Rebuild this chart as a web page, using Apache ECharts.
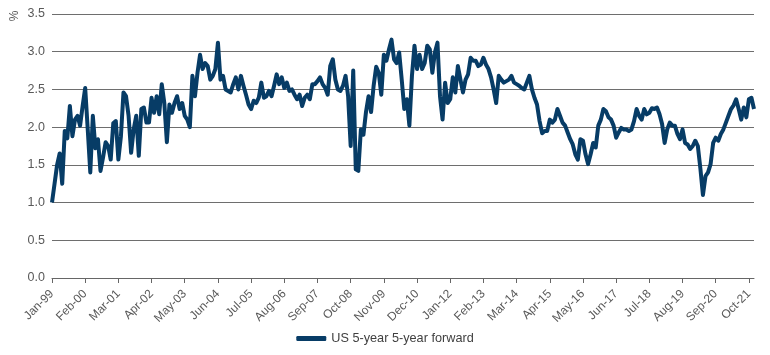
<!DOCTYPE html>
<html>
<head>
<meta charset="utf-8">
<script src="https://cdn.jsdelivr.net/npm/echarts@6/dist/echarts.min.js"></script>
<style>html,body{margin:0;padding:0;background:#fff;}#c{width:770px;height:355px;}</style>
</head>
<body>
<div id="c"></div>
<script>
// Monthly values, Jan-99 .. Dec-21
const v1999_2002 = [1.0,1.25,1.5,1.65,1.25,1.95,1.85,2.28,1.88,2.1,2.15,2.02,2.28,2.52,1.97,1.4,2.15,1.72,1.84,1.42,1.6,1.8,1.75,1.57,2.05,2.08,1.57,1.88,2.46,2.41,2.15,1.66,1.97,2.15,1.62,2.24,2.26,2.06,2.06,2.39,2.19,2.41,2.17,2.57,2.32,1.8];
const v2002_2006 = [2.3,2.19,2.32,2.41,2.24,2.32,2.15,2.1,2.0,2.68,2.41,2.72,2.96,2.77,2.85,2.81,2.63,2.68,2.77,3.12,2.63,2.68,2.5,2.48,2.46,2.57,2.66,2.5,2.68,2.55,2.43,2.3,2.24,2.35,2.32,2.39,2.59,2.39,2.41,2.48,2.41,2.55,2.7,2.57,2.66,2.52];
const v2006_2010 = [2.59,2.48,2.5,2.43,2.37,2.43,2.28,2.39,2.43,2.37,2.57,2.57,2.61,2.66,2.57,2.52,2.43,2.81,2.9,2.63,2.5,2.48,2.55,2.68,2.41,1.75,2.75,1.44,1.42,1.97,1.9,2.2,2.41,2.2,2.55,2.8,2.72,2.43,2.96,2.88,3.03,3.16,2.9,2.85,2.99,2.63,2.24];
const v2010_2014 = [2.37,2.02,2.68,3.08,2.77,2.96,2.77,2.85,3.08,3.03,2.72,2.99,3.12,2.41,2.1,2.59,2.32,2.37,2.66,2.46,2.81,2.63,2.46,2.63,2.7,2.92,2.88,2.88,2.81,2.83,2.92,2.83,2.77,2.66,2.5,2.32,2.68,2.63,2.59,2.61,2.63,2.68,2.59,2.57,2.55];
const v2014_2018 = [2.52,2.5,2.59,2.68,2.5,2.39,2.3,2.08,1.92,1.95,1.95,2.1,2.06,2.1,2.24,2.15,2.06,2.02,1.93,1.84,1.77,1.64,1.57,1.84,1.82,1.64,1.51,1.64,1.79,1.73,2.02,2.1,2.24,2.21,2.13,2.1,2.02,1.86,1.93,1.99,1.97,1.97,1.95,1.97,2.08,2.24,2.15];
const v2018_2021 = [2.1,2.24,2.17,2.19,2.25,2.24,2.26,2.17,2.04,1.79,1.97,2.06,2.02,2.02,1.91,1.84,1.97,1.79,1.77,1.71,1.75,1.82,1.75,1.45,1.1,1.35,1.4,1.51,1.79,1.86,1.82,1.91,1.97,2.06,2.15,2.24,2.29,2.37,2.24,2.1,2.26,2.13,2.37,2.39,2.24];
const values = [].concat(v1999_2002, v2002_2006, v2006_2010, v2010_2014, v2014_2018, v2018_2021);

const monthNames = ['Jan','Feb','Mar','Apr','May','Jun','Jul','Aug','Sep','Oct','Nov','Dec'];
const categories = values.map((_, i) => monthNames[i % 12] + '-' + String((99 + Math.floor(i / 12)) % 100).padStart(2, '0'));
const yTicks = [0, 0.5, 1.0, 1.5, 2.0, 2.5, 3.0, 3.5];
const seriesName = 'US 5-year 5-year forward';

const chart = echarts.init(document.getElementById('c'), null, {renderer: 'canvas'});
chart.setOption({
  animation: false,
  backgroundColor: '#ffffff',
  textStyle: {fontFamily: 'Liberation Sans, Arial, sans-serif'},
  grid: {left: 52, right: 16, top: 14, bottom: 77, containLabel: false},
  legend: {
    data: [seriesName],
    bottom: 5,
    left: 'center',
    icon: 'roundRect',
    itemWidth: 30,
    itemHeight: 5,
    itemGap: 10,
    textStyle: {color: '#404040', fontSize: 12.7, fontFamily: 'Liberation Sans, Arial, sans-serif'}
  },
  xAxis: {
    type: 'category',
    data: categories,
    boundaryGap: false,
    axisLine: {show: true, lineStyle: {color: '#666666', width: 1}},
    axisTick: {show: true, interval: 12, length: 5, lineStyle: {color: '#666666'}},
    axisLabel: {interval: 12, rotate: 45, color: '#595959', fontSize: 12, margin: 14},
    splitLine: {show: false}
  },
  yAxis: {
    type: 'value',
    min: yTicks[0],
    max: yTicks[yTicks.length - 1],
    interval: 0.5,
    axisLine: {show: false},
    axisTick: {show: false},
    axisLabel: {color: '#595959', fontSize: 12.5, margin: 7, formatter: v => v.toFixed(1)},
    splitLine: {show: true, lineStyle: {color: '#6e6e6e', width: 1}}
  },
  graphic: [{
    type: 'text',
    x: 15, y: 16,
    rotation: Math.PI / 2,
    style: {text: '%', fill: '#595959', fontSize: 12, fontFamily: 'Liberation Sans, Arial, sans-serif', textAlign: 'center', textVerticalAlign: 'middle'}
  }],
  series: [{
    name: seriesName,
    type: 'line',
    data: values,
    showSymbol: false,
    symbol: 'none',
    smooth: false,
    color: '#073c66',
    lineStyle: {color: '#073c66', width: 4, join: 'round'},
    itemStyle: {color: '#073c66'}
  }]
});
</script>
</body>
</html>
